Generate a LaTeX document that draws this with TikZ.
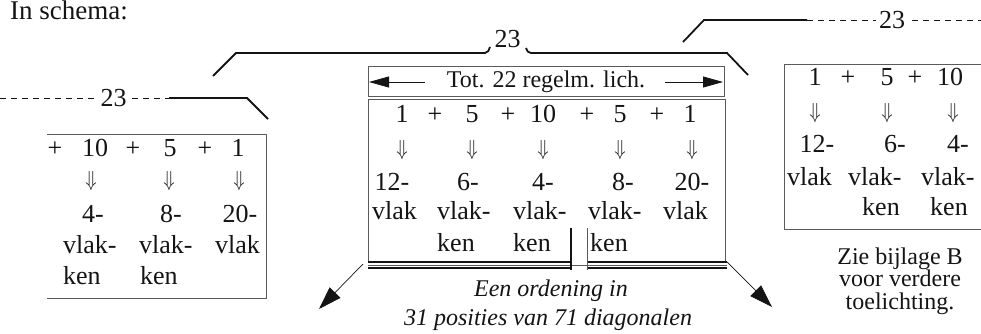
\documentclass[tikz,border=0pt]{standalone}
\usepackage{fontspec}
\setmainfont{Liberation Serif}
\usepackage{pdfrender}
\usetikzlibrary{arrows.meta}
\definecolor{boxgray}{HTML}{5A5A5A}
\definecolor{ink}{HTML}{141414}
\newcommand\outl[1]{\textpdfrender{TextRenderingMode=Stroke,LineWidth=0.45}{#1}}
\newcommand\dnarr{\textpdfrender{TextRenderingMode=FillStroke,LineWidth=0.5}{\scalebox{0.9}[1.05]{$\Downarrow$}}}
\tikzset{
  txt/.style={inner sep=0pt, font=\fontsize{26}{30}\selectfont, text=ink},
  stxt/.style={inner sep=0pt, font=\fontsize{24}{28}\selectfont, text=ink},
  itxt/.style={inner sep=0pt, font=\fontsize{24}{28}\selectfont\itshape, text=ink},
  dar/.style={inner sep=0pt, font=\fontsize{22}{26}\selectfont, text=ink},
  boxline/.style={draw=boxgray, line width=1pt},
  bracket/.style={draw=ink, line width=1.8pt},
  dashline/.style={draw=ink, line width=0.7pt, dash pattern=on 6pt off 5pt},
  bigarrow/.style={draw=ink, line width=0.8pt, -{Triangle[length=20pt,width=11pt]}},
  diagarrow/.style={draw=ink, line width=0.7pt, -{Triangle[length=23pt,width=15pt]}},
}
\begin{document}
\begin{tikzpicture}[x=1pt,y=-1pt]
\useasboundingbox (0,0) rectangle (981,334);

\node[txt, font=\fontsize{27}{30}\selectfont, anchor=base west] (title) at (10,20) {In schema:};

% ---------- left box ----------
\draw[boxline] (47,134) -- (266,134) -- (266,298) -- (47,298);
\foreach \x/\t [count=\i] in {55/+,95/10,133/+,170/5,205/+,238/1}
  \node[txt, anchor=base] (L1-\i) at (\x,156) {\t};
\foreach \x [count=\i] in {91,169,239}
  \node[dar] (L2-\i) at (\x,181) {\dnarr};
\foreach \x/\t [count=\i] in {93/4-,171/8-,240/20-}
  \node[txt, anchor=base] (L3-\i) at (\x,222) {\t};
\foreach \x/\t [count=\i] in {63/vlak-,139/vlak-,215/vlak}
  \node[txt, anchor=base west] (L4-\i) at (\x,253) {\t};
\foreach \x [count=\i] in {63,140}
  \node[txt, anchor=base west] (L5-\i) at (\x,284) {ken};

% left bracket
\node[txt] (l23) at (113.5,98) {23};
\draw[dashline] (0,98) -- (97,98);
\draw[dashline] (132,98) -- (169,98);
\draw[bracket] (169,98) -- (247,98) -- (268,119);

% ---------- top bracket ----------
\node[txt] (t23) at (507.5,39) {23};
\draw[bracket] (213,76) -- (236,53) -- (485,53) .. controls (488,53) and (489,50) .. (490,47);
\draw[bracket] (526,48) .. controls (527,51) and (528,53) .. (531,53) -- (727,53) -- (748,75);

% ---------- centre ----------
\draw[boxline] (368,67) rectangle (724,97);
\node[stxt, anchor=base] (tot) at (546,88) {Tot. 22 regelm. lich.};
\coordinate (totL) at (369,82);
\coordinate (totR) at (723,82);
\draw[bigarrow] (425,82) -- (totL);
\draw[bigarrow] (665,82) -- (totR);

\draw[boxline] (368,261) -- (368,100) -- (725,100) -- (725,261);
\foreach \x/\t [count=\i] in {402/1,435/+,472/5,508/+,543/10,587/+,620/5,657/+,690/1}
  \node[txt, anchor=base] (C1-\i) at (\x,122) {\t};
\foreach \x [count=\i] in {402,472,543,620,692}
  \node[dar] (C2-\i) at (\x,150) {\dnarr};
\foreach \x/\t [count=\i] in {392/12-,468/6-,543/4-,623/8-,692/20-}
  \node[txt, anchor=base] (C3-\i) at (\x,190) {\t};
\foreach \x/\t [count=\i] in {372/vlak,437/vlak-,513/vlak-,588/vlak-,663/vlak}
  \node[txt, anchor=base west] (C4-\i) at (\x,219) {\t};
\foreach \x [count=\i] in {437,513,590}
  \node[txt, anchor=base west] (C5-\i) at (\x,251) {ken};

% triple rule with gap
\draw[ink, line width=2pt] (368,261.5) -- (572,261.5) (588,261.5) -- (727,261.5);
\draw[boxgray, line width=0.7pt] (368,265) -- (727,265);
\draw[ink, line width=2pt] (368,268) -- (572,268) (588,268) -- (727,268);
\draw[ink, line width=1.2pt] (571,228) -- (571,270);
\draw[boxgray, line width=1pt] (587,228) -- (587,270);

% diagonal arrows
\coordinate (dlS) at (363,264);
\coordinate (dlE) at (319,309);
\coordinate (drS) at (727,262);
\coordinate (drE) at (772,307);
\draw[diagarrow] (dlS) -- (dlE);
\draw[diagarrow] (drS) -- (drE);

\node[itxt, anchor=base] (ord1) at (551,296) {Een ordening in};
\node[itxt, anchor=base] (ord2) at (548,325) {\outl{31} posities van \outl{71} diagonalen};

% ---------- right ----------
\draw[bracket] (683,42) -- (704,20) -- (807,20);
\node[txt] (r23) at (892,20) {23};
\draw[dashline] (807,20) -- (876,20);
\draw[dashline] (912,20) -- (981,20);

\draw[boxline] (981,65) -- (784,65) -- (784,229) -- (981,229);
\foreach \x/\t [count=\i] in {815/1,848/+,887/5,915/+,950/10}
  \node[txt, anchor=base] (R1-\i) at (\x,86) {\t};
\foreach \x [count=\i] in {815,887,953}
  \node[dar] (R2-\i) at (\x,113) {\dnarr};
\foreach \x/\t [count=\i] in {817/12-,895/6-,958/4-}
  \node[txt, anchor=base] (R3-\i) at (\x,152) {\t};
\foreach \x/\t [count=\i] in {787/vlak,848/vlak-,921/vlak-}
  \node[txt, anchor=base west] (R4-\i) at (\x,185) {\t};
\foreach \x [count=\i] in {862,930}
  \node[txt, anchor=base west] (R5-\i) at (\x,215) {ken};

\node[stxt, anchor=base] (zie1) at (900,264) {Zie bijlage B};
\node[stxt, anchor=base] (zie2) at (900,286) {voor verdere};
\node[stxt, anchor=base] (zie3) at (900,309) {toelichting.};
\end{tikzpicture}
\end{document}
